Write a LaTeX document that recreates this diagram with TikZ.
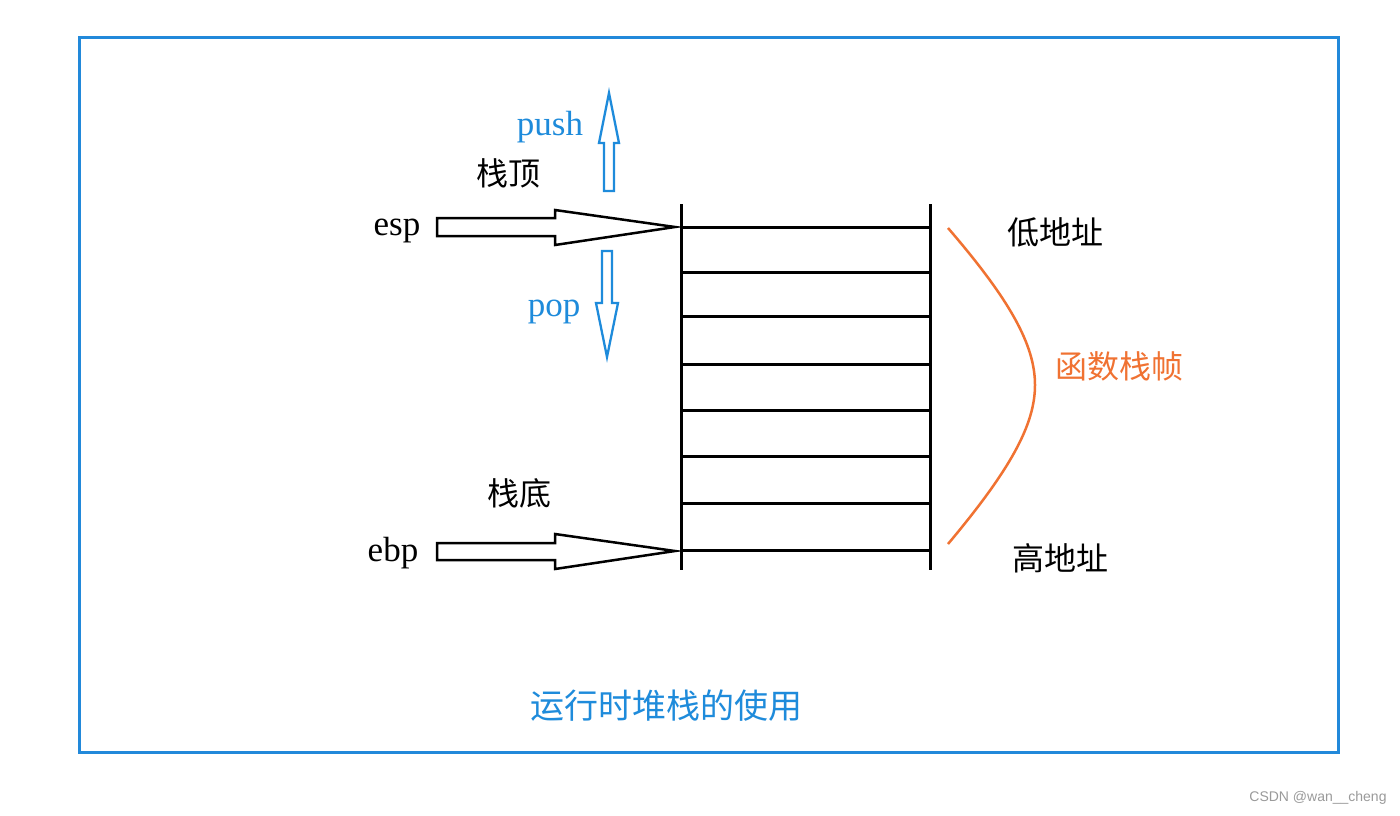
\documentclass[tikz,border=0pt]{standalone}
\usepackage{fontspec}
\setmainfont{Liberation Serif}
\newfontfamily\cjk{Noto Sans CJK SC}
\newfontfamily\wmfont{Liberation Sans}
\definecolor{frameblue}{HTML}{2289DA}
\definecolor{txtblue}{HTML}{1E8BDB}
\definecolor{frameorange}{HTML}{F07232}
\definecolor{wmgray}{HTML}{9A9A9A}
\begin{document}
\begin{tikzpicture}[x=1pt,y=-1pt,
  stackline/.style={line width=3pt, black},
  blockarrow/.style={draw=black, line width=2.5pt, fill=white, line join=miter},
  updownarrow/.style={draw=txtblue, line width=2.3pt, fill=white, line join=miter},
  lattext/.style={font=\fontsize{35}{35}\selectfont, inner sep=0pt, anchor=base},
  cjktext/.style={font=\cjk\fontsize{32}{32}\selectfont, inner sep=0pt},
]
\useasboundingbox (0,0) rectangle (1400,815);
\fill[white] (0,0) rectangle (1400,815);
% frame
\draw[frameblue, line width=3pt] (79,37) rectangle (1338,752);

% stack
\coordinate (lt) at (681,204); \coordinate (lb) at (681,570);
\coordinate (rt) at (930,204); \coordinate (rb) at (930,570);
\draw[stackline] (lt) -- (lb);
\draw[stackline] (rt) -- (rb);
\foreach \y/\n in {227/1,272/2,316/3,364/4,410/5,456/6,503/7,550/8}{
  \coordinate (sl\n) at (681,\y);
  \coordinate (sr\n) at (930,\y);
  \draw[stackline] (sl\n) -- (sr\n);
}

% labels
\node[lattext] (esp) at (397,235) {esp};
\node[lattext] (ebp) at (393,561) {ebp};
\node[lattext, text=txtblue] (push) at (550,135) {push};
\node[lattext, text=txtblue] (pop) at (554,316) {pop};
\node[cjktext] (top) at (508,173) {栈顶};
\node[cjktext] (bot) at (519,493) {栈底};
\node[cjktext] (low) at (1055,232) {低地址};
\node[cjktext] (high) at (1060,558) {高地址};
\node[cjktext, text=frameorange] (frame) at (1119,366) {函数栈帧};
\node[font=\cjk\fontsize{34}{34}\selectfont, inner sep=0pt, text=txtblue] (title) at (666,706) {运行时堆栈的使用};
\node[font=\wmfont\fontsize{14}{14}\selectfont, inner sep=0pt, text=wmgray] (wm) at (1318,798) {CSDN @wan\_\_cheng};

% esp arrow
\draw[blockarrow] (437,218) -- (555,218) -- (555,210) -- (675,227) -- (555,245) -- (555,236) -- (437,236) -- cycle;
% ebp arrow
\draw[blockarrow] (437,543) -- (555,543) -- (555,534) -- (675,551) -- (555,569) -- (555,560) -- (437,560) -- cycle;

% push arrow
\draw[updownarrow] (604,191) -- (604,143) -- (599,143) -- (609,93) -- (619,143) -- (614,143) -- (614,191) -- cycle;
% pop arrow
\draw[updownarrow] (602,251) -- (602,303) -- (596,303) -- (607,357) -- (618,303) -- (612,303) -- (612,251) -- cycle;

% orange curve
\coordinate (ca) at (948,228);
\coordinate (cm) at (1035,385);
\coordinate (cb) at (948,544);
\draw[frameorange, line width=2.5pt] (ca) .. controls (1010,300) and (1035,345) .. (cm) .. controls (1035,425) and (1010,470) .. (cb);
\end{tikzpicture}
\end{document}
